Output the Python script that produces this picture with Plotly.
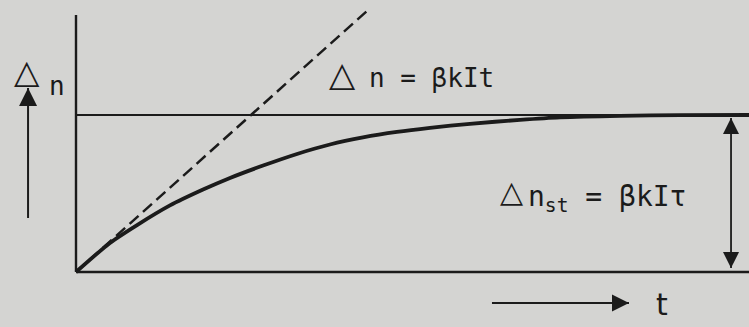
import plotly.graph_objects as go

# Normalised units: time in τ, concentration in Δn_st
t_curve = [0, 0.194, 0.349, 0.537, 0.726, 0.88, 1.069, 1.263, 1.451, 1.64,
           1.834, 2.023, 2.251, 2.537, 2.766, 3.109, 3.451, 3.846]
n_curve = [0, 0.185, 0.299, 0.424, 0.525, 0.599, 0.678, 0.752, 0.812, 0.857,
           0.892, 0.918, 0.944, 0.969, 0.985, 0.995, 0.999, 1.0]

# initial-slope line Δn = βkIt
t_linear = [0, 1.675]
n_linear = [0, 1.675]

n_steady = 1.0
t_end = 3.846
n_axis_top = 1.637

# label pieces
sym = "△"
label_linear = "n = βkIt"
label_steady = "n<sub>st</sub> = βkIτ"
label_y_var = "n"
label_x = "t"

W, H = 749, 327
T_SCALE = 175.0   # px per τ
N_SCALE = 157.0   # px per Δn_st
X0, Y0 = 76, 272  # origin in px
x_range = [-X0 / T_SCALE, (W - X0) / T_SCALE]
y_range = [-(H - Y0) / N_SCALE, Y0 / N_SCALE]

INK = "#1b1b1b"
BG = "#d4d4d2"
FONT = "DejaVu Sans"
MONO = "DejaVu Sans Mono"

fig = go.Figure()


def line(xs, ys, width, dash=None, shape="linear"):
    fig.add_trace(go.Scatter(x=xs, y=ys, mode="lines", hoverinfo="skip",
                             line=dict(color=INK, width=width, dash=dash,
                                       shape=shape, smoothing=0.7)))


line(t_linear, n_linear, 2.5, dash="12px,6px")
line(t_curve, n_curve, 3.8, shape="spline")
# axes and steady-state level
line([0, 0], [0, n_axis_top], 2.4)
line([0, t_end], [0, 0], 2.4)
line([0, t_end], [n_steady, n_steady], 1.8)


def arrow(tail, tip, symbol, head=17, width=2.0, both=None):
    """Shaft from tail to tip with an arrow marker anchored on the tip."""
    line([tail[0], tip[0]], [tail[1], tip[1]], width)
    xs, ys, syms = [tip[0]], [tip[1]], [symbol]
    if both:
        xs.append(tail[0]); ys.append(tail[1]); syms.append(both)
    fig.add_trace(go.Scatter(x=xs, y=ys, mode="markers", hoverinfo="skip",
                             marker=dict(symbol=syms, size=head, color=INK,
                                         line=dict(width=0))))


arrow((-0.274, 0.344), (-0.274, 1.172), "arrow-up", head=18)
arrow((3.743, 0.981), (3.743, 0.025), "arrow-down", head=16, width=1.8, both="arrow-up")
arrow((2.377, -0.197), (3.16, -0.197), "arrow-right", head=17)


def note(text, x, y, size=26, xanchor="left", family=FONT):
    fig.add_annotation(text=text, x=x, y=y, xref="x", yref="y", showarrow=False,
                       xanchor=xanchor, yanchor="middle",
                       font=dict(family=family, size=size, color=INK))


# Δn = βkIt
note(sym, 1.52, 1.26, size=34, xanchor="center")
note(label_linear, 1.66, 1.235, family=MONO)
# Δn_st = βkIτ
note(sym, 2.49, 0.51, size=30, xanchor="center")
note(label_steady, 2.57, 0.465, size=28, family=MONO)
# axis labels
note(sym, -0.28, 1.28, size=33, xanchor="center")
note(label_y_var, -0.166, 1.185, family=MONO)
note(label_x, 3.349, -0.204, size=30, xanchor="center")

fig.update_layout(
    width=W, height=H,
    margin=dict(l=0, r=0, t=0, b=0),
    paper_bgcolor=BG, plot_bgcolor=BG,
    showlegend=False,
    xaxis=dict(range=x_range, visible=False, fixedrange=True),
    yaxis=dict(range=y_range, visible=False, fixedrange=True),
)

fig.write_html("out.html", config={"displayModeBar": False})
